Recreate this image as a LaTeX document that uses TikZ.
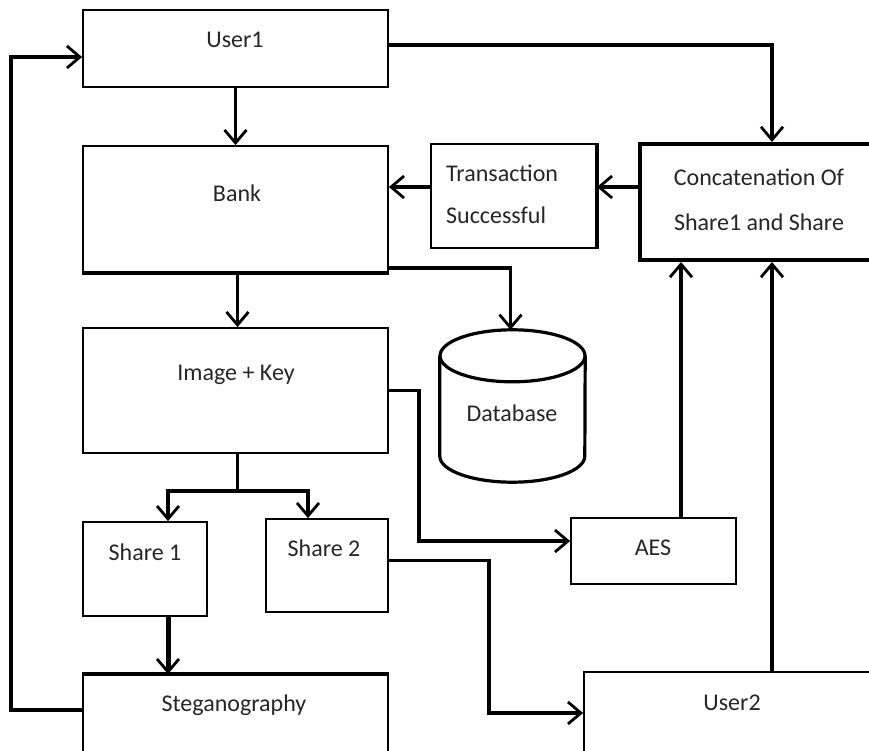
\documentclass[tikz,border=0pt]{standalone}
\usepackage{fontspec}
\setmainfont{Carlito}
\usetikzlibrary{arrows.meta,calc}
\begin{document}
\begin{tikzpicture}[x=1pt,y=1pt,
  box/.style={draw=black,line width=1.8pt,inner sep=0pt,fill=white},
  thickbox/.style={box,line width=4pt},
  txt/.style={font=\fontsize{24}{42}\selectfont,text=black!85,inner sep=0pt},
  conn/.style={line width=3.4pt,draw=black},
  arr/.style={conn,-{Straight Barb[length=13pt,width=22pt,line width=2.8pt]}}]
\useasboundingbox (0,0) rectangle (869,-751);
\clip (0,0) rectangle (869,-751);
\fill[white] (0,0) rectangle (869,-751);
% boxes
\node[box,minimum width=305,minimum height=77] (user1) at (235.5,-48.5) {};
\node[box,minimum width=305,minimum height=126] (bank) at (235.5,-209) {};
\draw[line width=4pt] (bank.south west) -- (bank.south east);
\node[box,minimum width=305,minimum height=125] (imgkey) at (235.5,-390.5) {};
\node[box,minimum width=124,minimum height=94] (share1) at (145,-569) {};
\node[box,minimum width=122,minimum height=93] (share2) at (327,-565.5) {};
\node[box,minimum width=305,minimum height=90] (steg) at (235.5,-720) {};
\draw[line width=4pt] (steg.north west) -- (steg.north east);
\node[box,minimum width=165,minimum height=104] (trans) at (513.5,-196) {};
\draw[line width=3.5pt] (trans.north east) -- (trans.south east);
\node[thickbox,minimum width=240,minimum height=116] (concat) at (760,-202) {};
\node[box,minimum width=165,minimum height=66] (aes) at (653.5,-551) {};
\node[box,minimum width=296,minimum height=88] (user2) at (732,-716) {};
% database cylinder
\node[inner sep=0pt,minimum width=145,minimum height=152] (db) at (512.5,-406) {};
\draw[line width=3.2pt,fill=white]
  ([yshift=-26]db.north west) -- ([yshift=26]db.south west)
  arc[start angle=180,end angle=360,x radius=72.5pt,y radius=26pt]
  -- ([yshift=-26]db.north east);
\draw[line width=3.2pt] ($(db.north)+(0,-26)$) ellipse [x radius=72.5pt,y radius=26pt];
% texts
\node[txt] (user1t) at (235,-40) {User1};
\node[txt] (bankt) at (237,-193) {Bank};
\node[txt] (imgkeyt) at (236,-375) {Image + Key};
\node[txt] (share1t) at (145,-552) {Share 1};
\node[txt] (share2t) at (324,-548) {Share 2};
\node[txt] (stegt) at (234,-705) {Steganography};
\node[txt,anchor=west,align=left] (transt) at (446,-194) {Transaction\\Successful};
\node[txt,align=center,font=\fontsize{24}{45}\selectfont] (concatt) at (759,-200) {Concatenation Of\\Share1 and Share};
\node[txt] (dbt) at (512,-413) {Database};
\node[txt] (aest) at (653,-548) {AES};
\node[txt] (user2t) at (732,-703) {User2};
% connectors
\draw[arr] (user1.south) -- (bank.north);
\draw[arr] ([yshift=3.5]user1.east) -| ([xshift=12]concat.north);
\draw[arr] ([yshift=9]trans.west) coordinate (t1) -- (t1 -| bank.east);
\draw[arr] (t1 -| concat.west) -- (t1 -| trans.east);
\draw[arr] ([yshift=5]bank.south east) -| ([xshift=-2]db.north);
\draw[arr] ([xshift=2]bank.south) -- ([xshift=2]imgkey.north);
\draw[conn] ([xshift=2]imgkey.south) -- ++(0,-37) coordinate (split);
\draw[arr] (split) -| ([xshift=23]share1.north);
\draw[arr] (split) -| ([xshift=-19]share2.north);
\draw[arr,line width=5pt] ([xshift=23]share1.south) coordinate (s1) -- (s1 |- steg.north);
\draw[arr] ([yshift=10]steg.west) -- ++(-71,0) |- ([yshift=-8.5]user1.west);
\draw[arr] (imgkey.east) -- ++(30,0) |- ([yshift=10]aes.west);
\draw[arr] ([yshift=5]share2.east) -- ++(100,0) |- ([yshift=3]user2.west);
\draw[arr] ([xshift=27.5]aes.north) coordinate (a1) -- (a1 |- concat.south);
\draw[arr] ([xshift=40]user2.north) coordinate (u2) -- (u2 |- concat.south);
\end{tikzpicture}
\end{document}
